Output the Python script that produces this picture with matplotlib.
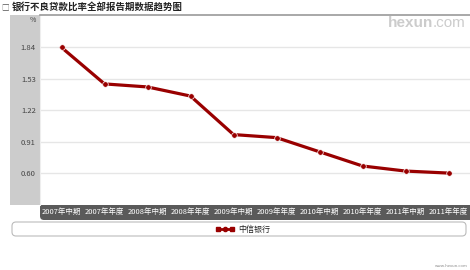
import matplotlib
matplotlib.use("Agg")
import matplotlib.pyplot as plt
from matplotlib.patches import FancyBboxPatch, Rectangle
from matplotlib.lines import Line2D
from matplotlib.transforms import IdentityTransform

plt.rcParams['font.family'] = ['Noto Sans CJK SC', 'DejaVu Sans']

periods = ['2007年中期', '2007年年度', '2008年中期', '2008年年度', '2009年中期',
           '2009年年度', '2010年中期', '2010年年度', '2011年中期', '2011年年度']
npl_ratio = [1.84, 1.48, 1.45, 1.36, 0.98, 0.95, 0.81, 0.67, 0.62, 0.60]
y_ticks = [0.60, 0.91, 1.22, 1.53, 1.84]
series_name = '中信银行'

W, H = 470, 270
fig = plt.figure(figsize=(W / 100, H / 100), dpi=100)
px = IdentityTransform()


def fx(x):
    return x / W


def fy(y):
    return 1 - y / H


def box(x0, y0, x1, y1, **kw):
    # pixel box, y measured from the top
    return dict(xy=(x0, H - y1), width=x1 - x0, height=y1 - y0, transform=px, **kw)


red = '#990000'
band = '#5a5a5a'

# grey panel behind the y labels
fig.patches.append(Rectangle(**box(10, 15, 40, 205), facecolor='#cccccc',
                             edgecolor='none', zorder=-2))
# dark band under the x labels, rounded bottom-left
r = 4
fig.patches.append(FancyBboxPatch((40 + r, H - 220 + r), 430 - 2 * r, 15 - 2 * r,
                                  boxstyle='round,pad=%d' % r, transform=px,
                                  facecolor=band, edgecolor='none', zorder=-2))
fig.patches.append(Rectangle(**box(40, 205, 470, 213), facecolor=band,
                             edgecolor='none', zorder=-2))
fig.patches.append(Rectangle(**box(48, 205, 470, 220), facecolor=band,
                             edgecolor='none', zorder=-2))
# legend box
fig.patches.append(FancyBboxPatch((12 + r, H - 236 + r), 454 - 2 * r, 14 - 2 * r,
                                  boxstyle='round,pad=%d' % r, transform=px,
                                  facecolor='white', edgecolor='#bbbbbb',
                                  linewidth=0.8, zorder=-1))

ax = fig.add_axes([fx(40), fy(205), fx(430), 190 / H])
ax.plot(range(len(periods)), npl_ratio, color=red, linewidth=2.3,
        marker='o', markersize=4, markerfacecolor=red, markeredgecolor='white',
        markeredgewidth=0.5)
ax.set_xlim(-0.5, len(periods) - 0.5)
ax.set_ylim(0.285, 2.16)
ax.set_yticks(y_ticks)
ax.set_yticklabels(['%.2f' % v for v in y_ticks], fontsize=5.5, color='#444444')
ax.set_xticks(range(len(periods)))
ax.set_xticklabels(periods, fontsize=5.4, color='white')
ax.tick_params(axis='both', length=0)
ax.tick_params(axis='y', pad=3)
ax.tick_params(axis='x', pad=2)
ax.grid(axis='y', color='#e6e6e6', linewidth=1)
ax.set_axisbelow(True)
for side in ('right', 'bottom'):
    ax.spines[side].set_visible(False)
ax.spines['top'].set_color('#999999')
ax.spines['top'].set_linewidth(1.2)
ax.spines['left'].set_color('#eeeeee')

# title and watermark
fig.text(fx(1), fy(7), '□', fontsize=5.5, color='#555555', va='center')
fig.text(fx(12), fy(7), '银行不良贷款比率全部报告期数据趋势图', fontsize=6.8,
         fontweight='bold', color='#222222', va='center')
fig.text(fx(433), fy(23), 'hexun', fontsize=11, fontweight='bold', color='#cccccc',
         va='center', ha='right', family='Liberation Sans')
fig.text(fx(433), fy(23), '.com', fontsize=11, color='#cccccc', va='center',
         ha='left', family='Liberation Sans')
fig.text(fx(33), fy(20), '%', fontsize=5, color='#444444', va='center', ha='center')

# legend entry
fig.add_artist(Line2D([fx(218), fx(232)], [fy(229), fy(229)], transform=fig.transFigure,
                      color=red, linewidth=2, marker='s', markersize=2.5,
                      markerfacecolor=red, markeredgecolor=red))
fig.add_artist(Line2D([fx(225)], [fy(229)], transform=fig.transFigure,
                      color=red, marker='o', markersize=3, linestyle='none'))
fig.text(fx(238), fy(229), series_name, fontsize=5.8, color='#222222', va='center')

fig.text(fx(468), fy(266), 'www.hexun.com', fontsize=3, color='#888888', va='center', ha='right')

fig.savefig('out.png', dpi=100)
